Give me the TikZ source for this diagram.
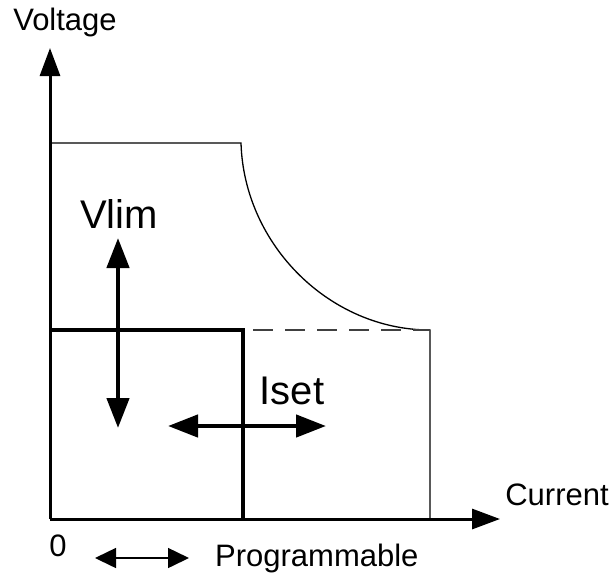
\documentclass[tikz,border=0pt]{standalone}
\usepackage{fontspec}
\setmainfont{Liberation Sans}
\usepackage{xcolor}
\definecolor{ink}{HTML}{000000}
\definecolor{dashgray}{HTML}{404040}
\usetikzlibrary{arrows.meta, positioning}

\begin{document}
\begin{tikzpicture}[
        x=1pt, y=-1pt,
        axis/.style={-{Triangle[length=28pt, width=20pt]}, line width=3pt, draw=ink},
        bold/.style={line width=4pt, draw=ink, line join=miter},
        thin/.style={line width=1.3pt, draw=ink},
        limit/.style={line width=2.5pt, draw=dashgray, dash pattern=on 20pt off 12pt},
        adjust/.style={{Triangle[length=30pt, width=22pt]}-{Triangle[length=30pt, width=22pt]}, line width=4.5pt, draw=ink},
        small/.style={{Triangle[length=21pt, width=20pt]}-{Triangle[length=21pt, width=20pt]}, line width=1.5pt, draw=ink},
        label/.style={font=\fontsize{31}{35}\selectfont, inner sep=0pt},
        biglabel/.style={font=\fontsize{40}{45}\selectfont, inner sep=0pt}
    ]
        \useasboundingbox (0,0) rectangle (612,579);

        % Axes
        \coordinate (o) at (50,519);
        \coordinate (ytip) at (50,48);
        \coordinate (xtip) at (500,519);

        % Corners of the curve
        \coordinate (vtop) at (50,143);
        \coordinate (ptop) at (241,143);
        \coordinate (pbot) at (430,330);
        \coordinate (pfoot) at (430,519);
        \coordinate (vlim) at (50,330);
        \coordinate (iset) at (243,330);
        \coordinate (ifoot) at (243,519);
        \coordinate (dash0) at (253,330);

        % Outer envelope
        \draw[thin] (vtop) -- (ptop) .. controls (244,245) and (330,330) .. (pbot) -- (pfoot);
        \draw[limit] (dash0) -- (pbot);

        % Programmed limit
        \draw[bold] (vlim) -- (iset) -- (ifoot);

        \draw[axis] (o) -- (ytip);
        \draw[axis] (o) -- (xtip);

        % Adjust arrows
        \coordinate (vup) at (118,238);
        \coordinate (vdown) at (118,428);
        \coordinate (ileft) at (168,426);
        \coordinate (iright) at (326,426);
        \draw[adjust] (vup) -- (vdown);
        \draw[adjust] (ileft) -- (iright);

        \coordinate (pleft) at (95,558);
        \coordinate (pright) at (189,558);
        \draw[small] (pleft) -- (pright);

        % Labels
        \node[label] (voltage) at (65,22) {Voltage};
        \node[label] (current) at (557,495) {Current};
        \node[label] (zero) at (58,546) {0};
        \node[label, right=26pt of pright] (prog) {Programmable};
        \node[biglabel] (vlimtext) at (119,214) {Vlim};
        \node[biglabel] (isettext) at (292,391) {Iset};
    \end{tikzpicture}
\end{document}
